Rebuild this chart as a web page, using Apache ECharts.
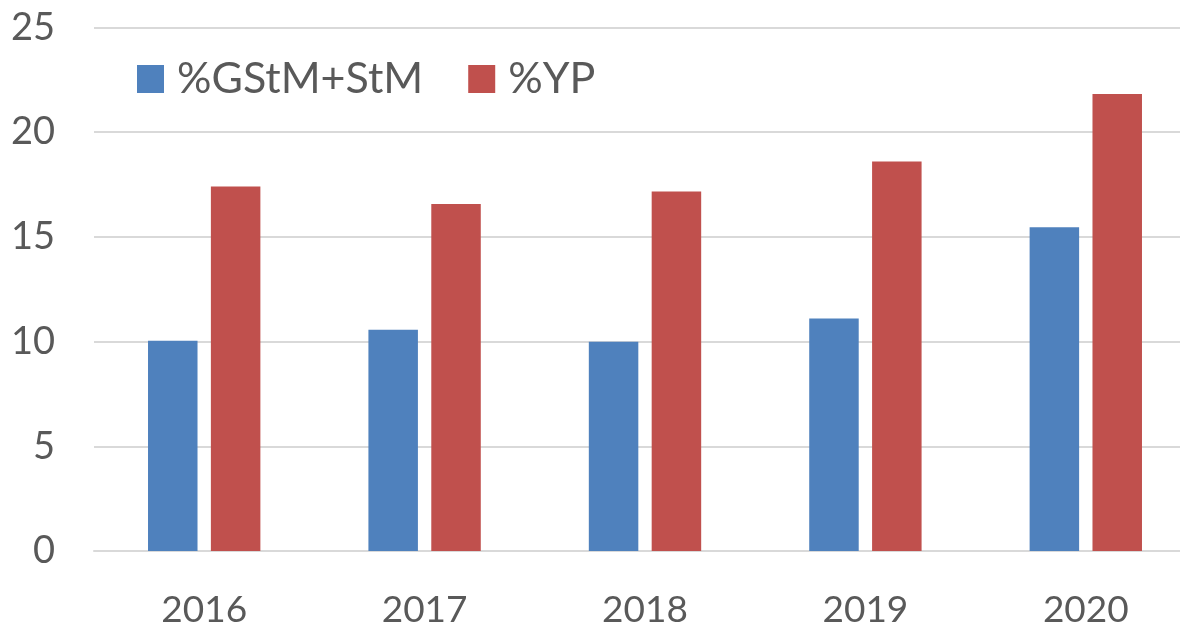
<!DOCTYPE html>
<html>
<head>
<meta charset="utf-8">
<script src="https://cdn.jsdelivr.net/npm/echarts@6/dist/echarts.min.js"></script>
<style>html,body{margin:0;padding:0;background:#fff;overflow:hidden;width:1180px;height:629px}#c{width:1196px;height:629px}</style>
</head>
<body>
<div id="c"></div>
<script>
const categories = ['2016', '2017', '2018', '2019', '2020'];
const seriesNames = ['%GStM+StM', '%YP'];
const gstmValues = [10.04, 10.56, 9.99, 11.1, 15.46];
const ypValues = [17.41, 16.57, 17.17, 18.6, 21.82];
const yTicks = [0, 5, 10, 15, 20, 25];

const chart = echarts.init(document.getElementById('c'), null, {renderer: 'canvas'});
const font = 'Lato, "Open Sans", sans-serif';
chart.setOption({
  animation: false,
  backgroundColor: '#fff',
  grid: {left: 94, right: 0, top: 27.5, bottom: 74.7, containLabel: false},
  legend: {
    data: seriesNames,
    left: 137, top: 57.5, padding: 0,
    itemWidth: 27, itemHeight: 28, itemGap: 45,
    icon: 'rect',
    textStyle: {fontFamily: font, fontSize: 43, color: '#595959', padding: [0, 0, 0, 8]}
  },
  xAxis: {
    type: 'category',
    data: categories,
    axisLine: {show: true, lineStyle: {color: '#D9D9D9', width: 2}},
    axisTick: {show: false},
    axisLabel: {fontFamily: font, fontSize: 37, color: '#595959', margin: 41}
  },
  yAxis: {
    type: 'value',
    min: yTicks[0], max: yTicks[yTicks.length - 1], interval: 5,
    axisLine: {show: false},
    axisTick: {show: false},
    splitLine: {lineStyle: {color: '#D9D9D9', width: 2}},
    axisLabel: {fontFamily: font, fontSize: 38, color: '#595959', margin: 39}
  },
  series: [
    {name: seriesNames[0], type: 'bar', data: gstmValues, barWidth: 49.5, barGap: '27%',
     itemStyle: {color: '#4F81BD'}},
    {name: seriesNames[1], type: 'bar', data: ypValues, barWidth: 49.5,
     itemStyle: {color: '#C0504D'}}
  ]
});
</script>
</body>
</html>
